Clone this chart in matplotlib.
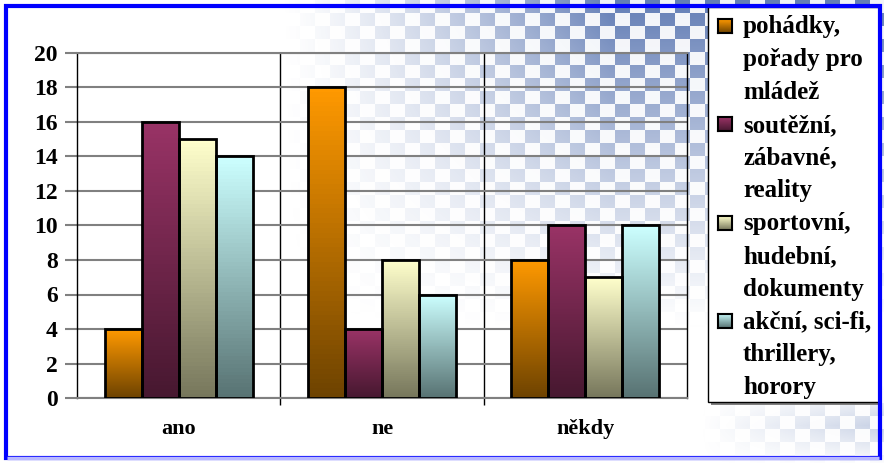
import numpy as np
import matplotlib
matplotlib.use("Agg")
import matplotlib.pyplot as plt
from matplotlib.colors import LinearSegmentedColormap
from matplotlib.patches import Rectangle

# data
categories = ['ano', 'ne', 'někdy']
pohadky = [4, 18, 8]
soutezni = [16, 4, 10]
sportovni = [15, 8, 7]
akcni = [14, 6, 10]
series = [pohadky, soutezni, sportovni, akcni]
labels = ['pohádky,\npořady pro\nmládež',
          'soutěžní,\nzábavné,\nreality',
          'sportovní,\nhudební,\ndokumenty',
          'akční, sci-fi,\nthrillery,\nhorory']
yticks = list(range(0, 21, 2))

# gradient colours (bottom, top)
grads = [('#6e4300', '#ff9900'),
         ('#471830', '#993366'),
         ('#77775c', '#ffffcc'),
         ('#587373', '#ccffff')]

W, H = 884, 463
fig = plt.figure(figsize=(W / 100, H / 100), dpi=100)

# background checker pattern
bg = fig.add_axes([0, 0, 1, 1], zorder=-2)
bg.axis('off')
yy, xx = np.mgrid[0:H, 0:W]
chk = ((xx // 15) + (yy // 13)) % 2
a1 = np.clip((xx - 280) / 330, 0, 1) ** 1.3 * np.clip(1 - yy / 330, 0, 1) ** 1.2
a2 = np.clip((xx - 700) / 180, 0, 1) * np.clip(1 - np.abs(yy - 425) / 40, 0, 1) * 0.35
alpha = np.clip(a1 + a2, 0, 1)
img = np.ones((H, W, 4))
img[..., 0] = 0.36
img[..., 1] = 0.47
img[..., 2] = 0.70
img[..., 3] = alpha * chk * 0.95 + alpha * (1 - chk) * 0.08
bg.imshow(img, extent=[0, W, H, 0], aspect='auto')
bg.set_xlim(0, W)
bg.set_ylim(H, 0)

# blue border
fig.patches.append(Rectangle((6 / W, 5 / H), 874 / W, 452 / H, transform=fig.transFigure,
                             fill=False, edgecolor='#0000ff', lw=3, zorder=5))
fig.patches.append(Rectangle((7 / W, 5 / H), 872 / W, 0, transform=fig.transFigure,
                             fill=False, edgecolor='#b8b8ff', lw=2.5, zorder=6))

ax = fig.add_axes([77 / W, 65 / H, 610 / W, 345 / H])
ax.set_facecolor('none')

x = np.arange(len(categories))
bw = 0.182
offsets = (np.arange(4) - 1.5) * bw
for vals, off, (c0, c1) in zip(series, offsets, grads):
    cmap = LinearSegmentedColormap.from_list('g', [c0, c1])
    bars = ax.bar(x + off, vals, bw, facecolor='none', edgecolor='black', lw=2, zorder=4)
    for b in bars:
        bx, by = b.get_x(), b.get_y()
        im = ax.imshow(np.linspace(0, 1, 64).reshape(-1, 1), cmap=cmap, origin='lower',
                       extent=[bx, bx + b.get_width(), by, by + b.get_height()],
                       aspect='auto', zorder=3)
        im.set_clip_path(b)

ax.set_xlim(-0.5, 2.5)
ax.set_ylim(0, 20)

serif = 'Liberation Serif'
ax.set_yticks(yticks)
ax.set_yticklabels([str(v) for v in yticks], fontfamily=serif, fontweight='bold', fontsize=17)
ax.tick_params(axis='y', length=9, width=1.5, color='#808080', pad=5)
ax.yaxis.grid(True, color='#808080', lw=1.5)
ax.set_xticks(x)
ax.set_xticklabels(categories, fontfamily=serif, fontweight='bold', fontsize=16)
ax.set_xticks([0.5, 1.5], minor=True)
ax.tick_params(axis='x', which='major', length=0, pad=15)
ax.tick_params(axis='x', which='minor', length=5, width=1, color='black')
ax.xaxis.grid(True, which='minor', color='black', lw=1)
ax.set_axisbelow(True)
for s in ['left', 'right']:
    ax.spines[s].set_color('black')
    ax.spines[s].set_linewidth(1)
for s in ['top', 'bottom']:
    ax.spines[s].set_color('#808080')
    ax.spines[s].set_linewidth(1.5)

# legend box
fig.patches.append(Rectangle((711 / W, 1 - 405 / H), 170 / W, 397 / H, transform=fig.transFigure,
                             facecolor='#808080', edgecolor='none', zorder=1))
fig.patches.append(Rectangle((708 / W, 1 - 402 / H), 172 / W, 395 / H, transform=fig.transFigure,
                             facecolor='white', edgecolor='black', lw=1, zorder=2))
pitch = 32.8
k = 0
for lab, (c0, c1) in zip(labels, grads):
    y0 = 26 + pitch * k
    hax = fig.add_axes([718 / W, 1 - (y0 + 7) / H, 14 / W, 14 / H], zorder=3)
    hax.imshow(np.linspace(0, 1, 32).reshape(-1, 1), origin='lower', aspect='auto',
               cmap=LinearSegmentedColormap.from_list('h', [c0, c1]))
    hax.set_xticks([])
    hax.set_yticks([])
    for sp in hax.spines.values():
        sp.set_linewidth(1.5)
    for line in lab.split('\n'):
        fig.text(743 / W, 1 - (27 + pitch * k) / H, line, fontfamily=serif, fontweight='bold',
                 fontsize=18, va='center', ha='left', zorder=4)
        k += 1

fig.savefig('out.png', dpi=100)
